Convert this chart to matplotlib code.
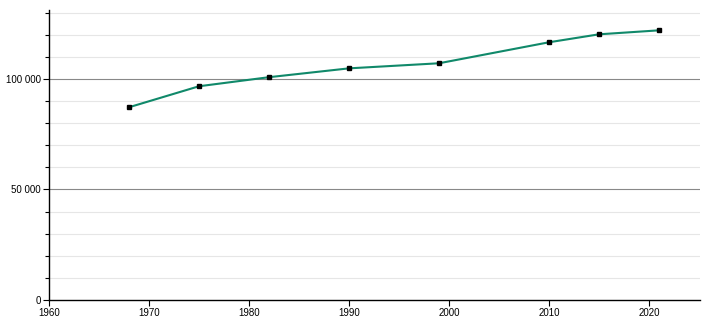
import matplotlib
matplotlib.use("Agg")
import matplotlib.pyplot as plt
from matplotlib.ticker import MultipleLocator, FuncFormatter

years = [1968, 1975, 1982, 1990, 1999, 2010, 2015, 2021]
population = [87200, 96700, 100800, 104800, 107100, 116600, 120200, 122000]
x_ticks = [1960, 1970, 1980, 1990, 2000, 2010, 2020]
y_ticks = [0, 50000, 100000]

plt.rcParams['font.family'] = ['Liberation Sans', 'DejaVu Sans']
fig = plt.figure(figsize=(7.1, 3.2), dpi=100)
ax = fig.add_axes([49/710, 20/320, (700-49)/710, 290/320])
ax.set_xlim(1960, 2025.1)
ax.set_ylim(0, 131200)

for y in range(10000, 131000, 10000):
    if y % 50000 == 0:
        ax.axhline(y, color='#888888', lw=0.8, zorder=1)
    else:
        ax.axhline(y, color='#e6e6e6', lw=0.8, zorder=1)

ax.plot(years, population, color='#10896a', lw=1.5, zorder=3)
ax.plot(years, population, ls='none', marker='s', ms=3.1, color='black', zorder=4)

ax.set_xticks(x_ticks)
ax.set_yticks(y_ticks)
ax.yaxis.set_minor_locator(MultipleLocator(10000))
ax.yaxis.set_major_formatter(FuncFormatter(lambda v, p: f"{int(v):,}".replace(",", " ")))
ax.tick_params(axis='both', which='both', direction='out', length=4, width=0.8, labelsize=7, colors='black', pad=2)
ax.tick_params(axis='y', which='minor', length=3)
for s in ['top', 'right']:
    ax.spines[s].set_visible(False)
for s in ['left', 'bottom']:
    ax.spines[s].set_linewidth(1.0)
    ax.spines[s].set_color('black')

fig.savefig('out.png', dpi=100)
